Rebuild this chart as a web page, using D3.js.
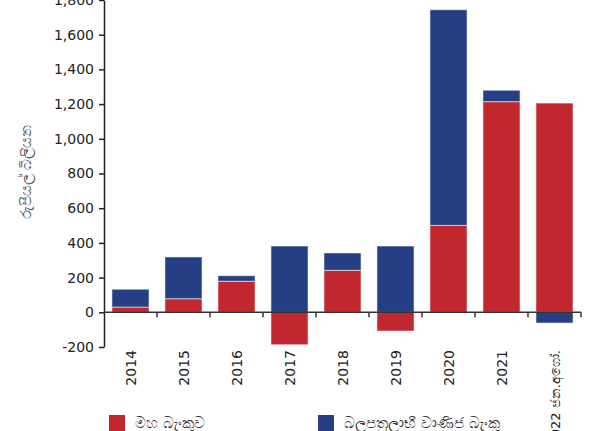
<!DOCTYPE html>
<html>
<head>
<meta charset="utf-8">
<script src="https://cdn.jsdelivr.net/npm/d3@7"></script>
<style>
  html, body { margin: 0; padding: 0; background: #fff; }
  svg { display: block; }
  text { font-family: "DejaVu Sans", "Noto Sans", sans-serif; }
</style>
</head>
<body>
<svg id="chart" width="612" height="431"></svg>
<script>
// Years / periods on the x axis
const categories = ["2014", "2015", "2016", "2017", "2018", "2019", "2020", "2021", "2022 ජන.අගෝ."];
// Rs. billion
const centralBank = [30, 78, 179, -187, 242, -108, 501, 1214, 1206];
const commercialBanks = [103, 241, 32, 382, 100, 382, 1243, 66, -62];
const seriesNames = ["මහ බැංකුව", "බලපත්‍රලාභී වාණිජ බැංකු"];
const seriesColors = ["#C1272F", "#253F84"];
const yTicks = [-200, 0, 200, 400, 600, 800, 1000, 1200, 1400, 1600, 1800];
const yTitle = "රුපියල් බිලියන";

const svg = d3.select("#chart");
const plotLeft = 104, plotRight = 581, plotTop = 0, plotBottom = 347;

const rows = categories.map((c, i) => ({ cat: c, cb: centralBank[i], lcb: commercialBanks[i] }));
const stack = d3.stack().keys(["cb", "lcb"]).offset(d3.stackOffsetDiverging);
const layers = stack(rows);

const x = d3.scaleBand().domain(categories).range([plotLeft, plotRight]).paddingInner(0.3).paddingOuter(0.15);
const y = d3.scaleLinear().domain([-200, 1800]).range([plotBottom, plotTop]);

// bars
svg.append("g").selectAll("g").data(layers).join("g")
  .attr("fill", (d, i) => seriesColors[i])
  .selectAll("rect").data(d => d).join("rect")
  .attr("x", d => x(d.data.cat))
  .attr("width", x.bandwidth())
  .attr("y", d => y(Math.max(d[0], d[1])))
  .attr("height", d => Math.abs(y(d[0]) - y(d[1])))
  .attr("stroke", "rgba(255,255,255,0.55)")
  .attr("stroke-width", 1);

// y axis, plain hyphen for negatives
const fmt = d3.formatLocale({ decimal: ".", thousands: ",", grouping: [3], currency: ["", ""], minus: "-" }).format(",");
const yAxis = svg.append("g")
  .attr("transform", `translate(${plotLeft},0)`)
  .call(d3.axisLeft(y).tickValues(yTicks).tickSize(5).tickPadding(5)
    .tickFormat(fmt).tickSizeOuter(0));
yAxis.select(".domain").attr("stroke", "#222").attr("stroke-width", 1.5);
yAxis.selectAll(".tick line").attr("stroke", "#222").attr("stroke-width", 1.5);
yAxis.selectAll(".tick text").attr("font-size", 14).attr("fill", "#222")
  .attr("font-family", "DejaVu Sans");

// x axis at zero with ticks at band boundaries
const xAxisG = svg.append("g").attr("transform", `translate(0,${y(0)})`);
xAxisG.append("line").attr("x1", plotLeft).attr("x2", plotRight)
  .attr("stroke", "#333").attr("stroke-width", 1.5);
const bounds = d3.range(1, categories.length + 1).map(i => plotLeft + i * (plotRight - plotLeft) / categories.length);
xAxisG.selectAll("line.tk").data(bounds).join("line").attr("class", "tk")
  .attr("x1", d => d).attr("x2", d => d).attr("y1", 0).attr("y2", 5)
  .attr("stroke", "#333").attr("stroke-width", 1.5);

// x labels, rotated
svg.append("g").selectAll("text").data(categories).join("text")
  .attr("transform", d => `translate(${x(d) + x.bandwidth() / 2 + 5},350) rotate(-90)`)
  .attr("text-anchor", "end")
  .attr("font-size", (d, i) => i === categories.length - 1 ? 13 : 14)
  .attr("fill", "#222")
  .text(d => d);

// y title
svg.append("text")
  .attr("transform", `translate(31,172) rotate(-90)`)
  .attr("text-anchor", "middle")
  .attr("font-size", 15)
  .attr("fill", "#555")
  .text(yTitle);

// legend
const legendX = [109, 318];
const lg = svg.append("g").selectAll("g").data(seriesNames).join("g")
  .attr("transform", (d, i) => `translate(${legendX[i]},415)`);
lg.append("rect").attr("width", 16).attr("height", 16).attr("fill", (d, i) => seriesColors[i]);
lg.append("text").attr("x", 26).attr("y", 13).attr("font-size", 15).attr("fill", "#333").text(d => d);
</script>
</body>
</html>
